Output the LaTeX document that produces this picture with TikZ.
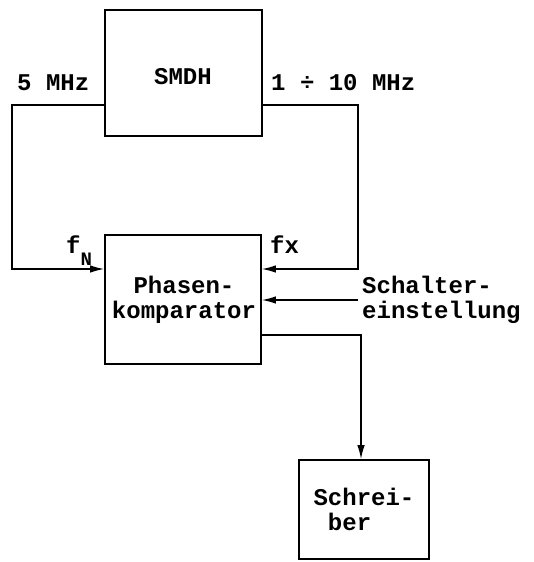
\documentclass[tikz,border=0pt]{standalone}
\usepackage{fontspec}
\setmonofont{Liberation Mono}
\usetikzlibrary{arrows.meta}
\tikzset{
  txt/.style={font=\ttfamily\bfseries\fontsize{24}{24.5}\selectfont},
  blk/.style={draw, line width=1.6pt, inner sep=0pt, txt},
  lbl/.style={inner sep=0pt, txt},
  wire/.style={line width=1.5pt},
  arr/.style={wire, -{Latex[length=14pt,width=7.5pt]}}
}
\begin{document}
\begin{tikzpicture}[x=1pt,y=-1pt]
\useasboundingbox (0,0) rectangle (533,562);
\node[blk, minimum width=157pt, minimum height=126pt] (smdh) at (183.5,73) {};
\node[lbl, anchor=base] (smdht) at (183,84) {SMDH};
\node[blk, minimum width=156pt, minimum height=129pt] (ph) at (183,299.5) {};
\node[lbl, align=center, anchor=base] (pht) at (184,318) {Phasen-\\komparator};
\node[blk, minimum width=130pt, minimum height=99pt, align=left] (sch) at (364,509.5) {Schrei-\\\hphantom{S}ber};
% labels
\node[lbl, anchor=base west] (l5) at (17,90) {5 MHz};
\node[lbl, anchor=base west] (l10) at (271,90) {1 ÷ 10 MHz};
\node[lbl, anchor=base west] (fn) at (66,253) {f\raisebox{-12pt}{\fontsize{19}{19}\selectfont N}};
\node[lbl, anchor=base west] (fx) at (270,253) {fx};
\node[lbl, anchor=base west, align=left] (sw) at (362,318) {Schalter-\\einstellung};
% connectors
\coordinate (a1) at (12,105);
\coordinate (a2) at (12,269);
\draw[arr] (smdh.west |- a1) -- (a1) -- (a2) -- (ph.west |- a2);
\coordinate (b1) at (358,105);
\coordinate (b2) at (358,269);
\draw[arr] (smdh.east |- b1) -- (b1) -- (b2) -- (ph.east |- b2);
\coordinate (c1) at (358,300);
\draw[arr] (c1) -- (ph.east |- c1);
\coordinate (d1) at (361,335);
\draw[arr] (ph.east |- d1) -- (d1) -- (sch.north -| d1);
\end{tikzpicture}
\end{document}
